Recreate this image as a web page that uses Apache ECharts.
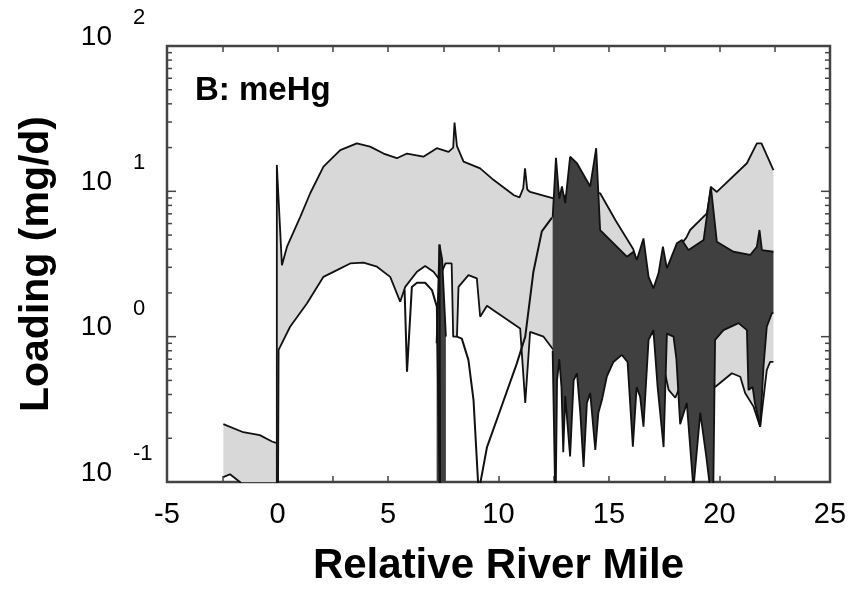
<!DOCTYPE html>
<html>
<head>
<meta charset="utf-8">
<script src="https://cdn.jsdelivr.net/npm/echarts@6/dist/echarts.min.js"></script>
<style>
  html, body { margin: 0; padding: 0; background: #fff; }
  #chart { width: 852px; height: 597px; }
</style>
</head>
<body>
<div id="chart"></div>
<script>
// ---- data: [river mile, loading mg/d] ----
// light band, short piece left of mile 0
var lightUpA = [[-2.45,0.25],[-1.55,0.22],[-0.8,0.21],[-0.25,0.19],[-0.03,0.185]];
var lightLoA = [[-2.45,0.108],[-2.15,0.113],[-1.7,0.1],[-1.0,0.08],[-0.03,0.06]];

// light band, main piece
var lightUpB = [[-0.03,15.2],[0.2,3.1],[0.43,4.16],[1.03,6.68],[1.48,9.7],[2.08,14.8],[2.84,19.2],
  [3.59,21.4],[4.19,20.3],[4.8,18.2],[5.4,16.9],[5.86,18.2],[6.6,17.3],[7.21,19.8],[7.74,18.7],
  [7.95,20.0],[8.01,29.7],[8.12,20.5],[8.42,16.0],[9.17,14.4],[9.77,12.0],[10.7,9.4],[10.95,9.1],
  [11.12,10.5],[11.2,14.4],[11.3,10.3],[11.43,9.9],[12.2,9.2],[12.49,8.95],[13.0,9.3],[13.6,10.0],
  [14.2,10.0],[14.6,9.7],[15.3,6.3],[16.1,4.0],[16.3,3.16],[16.8,2.4],[17.0,2.0],[17.25,2.5],
  [17.6,2.75],[18.0,4.0],[18.3,4.4],[18.5,4.8],[18.67,5.42],[19.43,7.06],[19.62,10.7],[19.88,9.9],
  [21.24,15.6],[21.69,21.4],[21.9,21.4],[22.44,14.0]];
var lightLoB = [[-0.03,0.06],[0.02,0.06],[0.05,0.81],[0.57,1.17],[1.33,1.69],[2.08,2.58],[2.69,2.87],
  [3.29,3.19],[3.89,3.23],[4.5,3.03],[5.1,2.58],[5.55,1.74],[5.78,2.2],[6.31,2.8],[6.68,3.06],
  [7.06,2.8],[7.3,2.5],[7.6,3.19],[7.88,3.19],[7.95,1.0],[8.12,1.0],[8.19,2.2],[8.64,2.65],
  [9.02,2.52],[9.17,1.37],[9.48,1.63],[9.77,1.52],[10.98,1.14],[11.21,0.35],[11.43,1.08],
  [12.04,1.0],[12.49,0.81],[13.0,0.9],[14.0,0.95],[15.0,0.95],[16.5,1.0],[17.0,1.05],[17.4,0.7],
  [17.7,0.43],[18.0,0.38],[18.2,0.45],[18.8,0.5],[19.5,0.5],[19.8,0.45],[20.56,0.56],[20.94,0.53],
  [21.16,0.41],[21.54,0.33],[21.84,0.24],[22.14,0.59],[22.29,0.67],[22.44,0.67]];

// dark band
var darkUp = [[12.45,6.6],[12.6,17.0],[12.75,8.9],[12.87,10.8],[13.02,8.3],[13.24,17.3],[13.55,15.6],
  [14.15,10.8],[14.42,19.8],[14.6,5.4],[15.81,3.55],[16.11,3.84],[16.26,3.37],[16.56,4.74],
  [16.79,2.58],[17.01,2.15],[17.24,2.73],[17.44,4.16],[17.62,2.95],[18.07,4.39],[18.3,4.62],
  [18.6,3.94],[19.28,4.62],[19.61,10.8],[19.88,4.5],[20.63,3.84],[21.39,3.65],[21.69,4.16],
  [21.81,5.42],[21.92,3.94],[22.44,3.84]];
var darkLo = [[12.45,0.8],[12.58,0.06],[12.65,0.5],[12.75,0.7],[12.85,0.45],[12.93,0.16],[13.02,0.39],
  [13.24,0.15],[13.4,0.5],[13.55,0.56],[13.7,0.3],[13.85,0.127],[14.0,0.35],[14.15,0.41],
  [14.38,0.166],[14.52,0.3],[14.68,0.366],[14.9,0.53],[15.2,0.67],[15.58,0.75],[15.84,0.67],
  [16.08,0.175],[16.25,0.45],[16.41,0.385],[16.56,0.24],[16.79,0.95],[17.01,1.11],[17.2,0.45],
  [17.47,0.174],[17.62,1.05],[17.92,1.0],[18.05,0.7],[18.22,0.25],[18.52,0.35],[18.82,0.09],
  [19.13,0.3],[19.4,0.15],[19.62,0.08],[19.72,0.09],[19.8,0.95],[20.18,1.11],[20.86,1.24],
  [21.24,1.11],[21.31,0.43],[21.5,0.45],[21.6,0.35],[21.84,0.24],[21.99,0.62],[22.14,1.17],
  [22.37,1.45],[22.44,1.45]];

// narrow dark spike near mile 7.4
var darkSpikeUp = [[7.2,0.9],[7.33,4.3],[7.45,3.4],[7.62,1.0]];
var darkSpikeLo = [[7.2,0.06],[7.62,0.06]];
var spikeLine = [[7.33,4.3],[7.36,0.06]];

// loose black curves
var lineA = [[5.75,2.1],[5.86,0.574],[6.08,2.2],[6.31,2.35],[6.68,2.35],[6.99,2.09],[7.21,1.61],[7.36,0.06]];
var lineBC = [[8.12,1.0],[8.34,0.97],[8.64,0.69],[8.87,0.366],[9.1,0.085],[9.48,0.174],[10.08,0.313],
  [10.83,0.655],[11.21,1.0],[11.58,2.8],[11.96,5.3],[12.42,6.6]];

// axes
var xMin = -5, xMax = 25;
var yMin = 0.1, yMax = 100;
var yMajor = [0.1, 1, 10, 100];
var yMinorMult = [2, 3, 4, 5, 6, 7, 8, 9];

var FONT = "'Liberation Sans', Arial, Helvetica, sans-serif";
var LIGHT = '#d8d8d8', DARK = '#404040', INK = '#111', FRAME = '#444';

var yTicks = [];
yMajor.forEach(function (v) { yTicks.push([xMin, v, 1]); });
yMajor.slice(0, 3).forEach(function (v) {
  yMinorMult.forEach(function (m) { yTicks.push([xMin, v * m, 0]); });
});

var chart = echarts.init(document.getElementById('chart'));

function band(up, lo, color, z) {
  return {
    type: 'custom', z: z, clip: true, silent: true,
    data: [[0, 1]],
    renderItem: function (params, api) {
      var pts = [];
      up.forEach(function (p) { pts.push(api.coord(p)); });
      for (var i = lo.length - 1; i >= 0; i--) pts.push(api.coord(lo[i]));
      return { type: 'polygon', shape: { points: pts }, style: { fill: color } };
    }
  };
}

function edge(data, z, w) {
  return {
    type: 'line', data: data, z: z, symbol: 'none', silent: true, animation: false,
    lineStyle: { color: INK, width: w || 1.8 }
  };
}

var option = {
  animation: false,
  title: {
    text: 'B: meHg', left: 195, top: 74, padding: 0,
    textStyle: { fontFamily: FONT, fontSize: 33, fontWeight: 'bold', color: '#000' }
  },
  grid: { left: 167, right: 22, top: 46, bottom: 115, show: true, borderColor: FRAME, borderWidth: 2.5 },
  xAxis: [{
    type: 'value', min: xMin, max: xMax, interval: 2.5, position: 'bottom',
    axisLine: { show: false }, splitLine: { show: false },
    axisTick: { inside: true, length: 6, lineStyle: { color: FRAME, width: 1.5 } },
    axisLabel: {
      margin: 18, fontFamily: FONT, fontSize: 29, color: '#000',
      formatter: function (v) { return v % 5 === 0 ? String(v) : ''; }
    },
    name: 'Relative River Mile', nameLocation: 'middle', nameGap: 63,
    nameTextStyle: { fontFamily: FONT, fontSize: 42, fontWeight: 'bold', color: '#000' }
  }, {
    type: 'value', min: xMin, max: xMax, interval: 2.5, position: 'top',
    axisLine: { show: false }, splitLine: { show: false }, axisLabel: { show: false },
    axisTick: { inside: true, length: 6, lineStyle: { color: FRAME, width: 1.5 } }
  }],
  yAxis: [{
    type: 'log', logBase: 10, min: yMin, max: yMax, position: 'left',
    axisLine: { show: false }, axisTick: { show: false }, splitLine: { show: false },
    axisLabel: {
      margin: 55, fontFamily: FONT, fontSize: 28, lineHeight: 18, color: '#000',
      verticalAlign: 'bottom',
      formatter: function () { return '10'; }
    },
    name: 'Loading (mg/d)', nameLocation: 'middle', nameGap: 110, nameRotate: 90,
    nameTextStyle: { fontFamily: FONT, fontSize: 41, fontWeight: 'bold', color: '#000' }
  }, {
    type: 'log', logBase: 10, min: yMin, max: yMax, position: 'left',
    axisLine: { show: false }, axisTick: { show: false }, splitLine: { show: false },
    axisLabel: {
      margin: 34, align: 'left', verticalAlign: 'bottom', padding: [0, 0, 17, 0],
      fontFamily: FONT, fontSize: 22, color: '#000',
      formatter: function (v) { return String(Math.round(Math.log10(v))); }
    }
  }],
  series: [
    band(lightUpA, lightLoA, LIGHT, 1),
    band(lightUpB, lightLoB, LIGHT, 1),
    edge(lightUpA, 2), edge(lightLoA, 2),
    edge([lightLoB[0]].concat(lightUpB), 2), edge(lightLoB.slice(1), 2),
    band(darkUp, darkLo, DARK, 3),
    band(darkSpikeUp, darkSpikeLo, DARK, 3),
    edge(darkUp, 4), edge(darkLo, 4), edge(darkSpikeUp, 4), edge(spikeLine, 4, 2),
    edge(lineA, 5, 2), edge(lineBC, 5, 2),
    {
      type: 'custom', z: 6, clip: false, silent: true, data: yTicks,
      renderItem: function (params, api) {
        var v = api.value(1), len = api.value(2) ? 9 : 5;
        var l = api.coord([xMin, v]), r = api.coord([xMax, v]);
        var st = { stroke: FRAME, lineWidth: 1.5 };
        return { type: 'group', children: [
          { type: 'line', shape: { x1: l[0], y1: l[1], x2: l[0] + len, y2: l[1] }, style: st },
          { type: 'line', shape: { x1: r[0], y1: r[1], x2: r[0] - len, y2: r[1] }, style: st }
        ] };
      }
    }
  ]
};
chart.setOption(option);
</script>
</body>
</html>
